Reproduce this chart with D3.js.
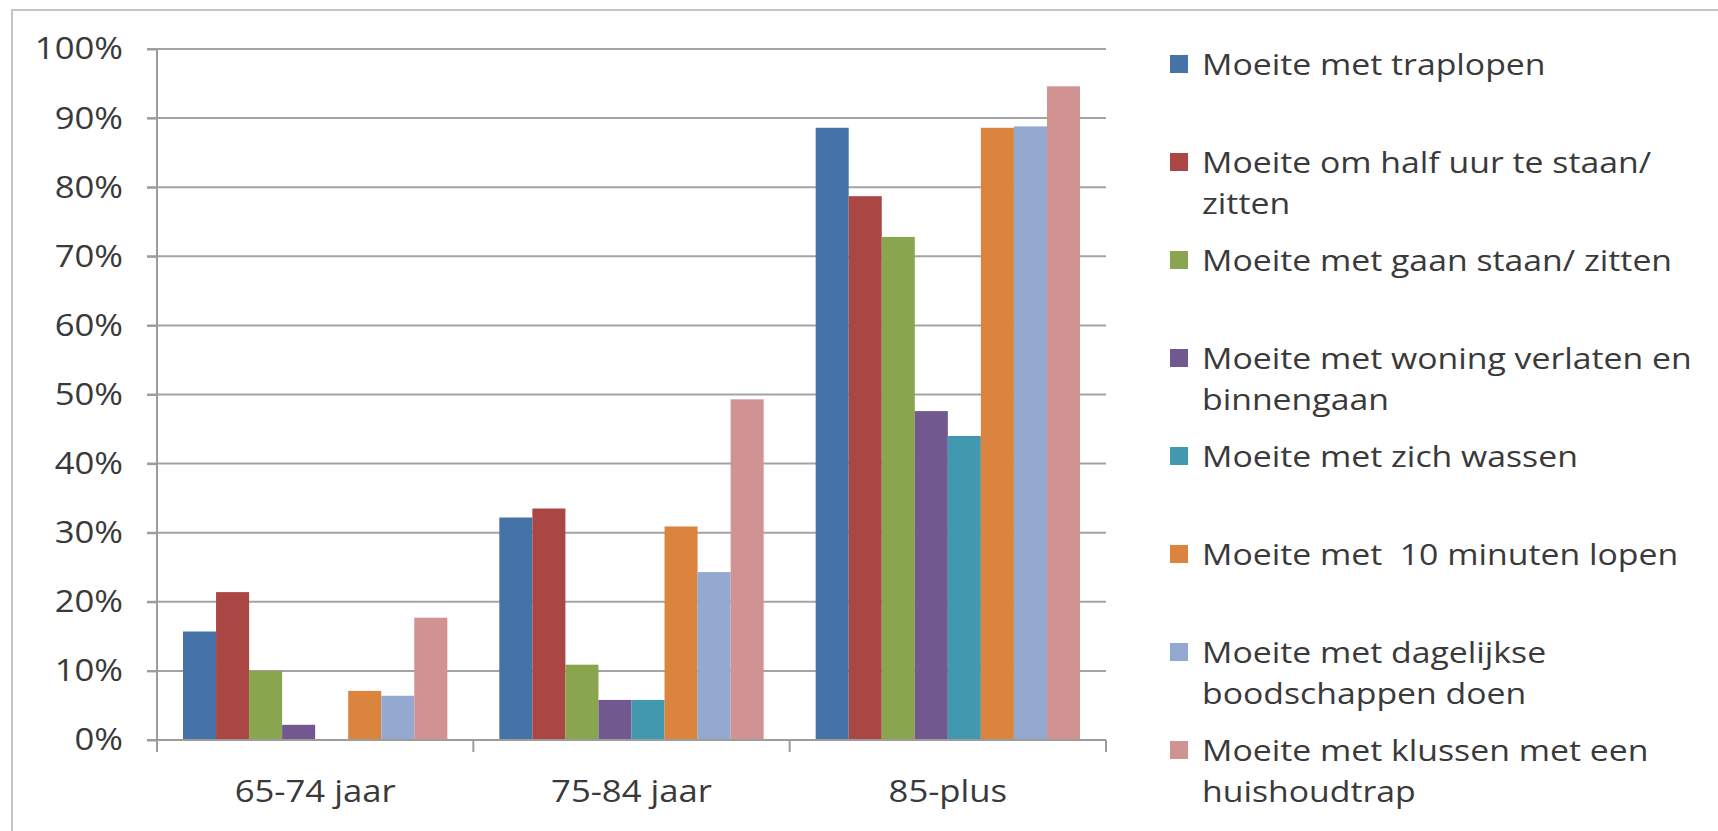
<!DOCTYPE html>
<html lang="nl">
<head>
    <meta charset="UTF-8">
    <title>Moeite met dagelijkse activiteiten naar leeftijd</title>
    <script src="https://d3js.org/d3.v7.min.js"></script>
    <style>
        body {
            margin: 0;
            padding: 0;
            background: #fff;
            overflow: hidden;
        }
        svg {
            display: block;
        }
        text {
            font-family: "Open Sans", Lato, sans-serif;
            fill: #3a3a3a;
        }
        .legend text {
            white-space: pre;
        }
        .grid line {
            stroke: #a3a3a3;
            stroke-width: 2px;
        }
        .axis-line {
            stroke: #9c9c9c;
            stroke-width: 2px;
        }
    </style>
</head>
<body>
    <svg id="chart" width="1718" height="831"></svg>

    <script>
        // age groups on the x axis
        const categories = ["65-74 jaar", "75-84 jaar", "85-plus"];

        // legend labels, "\n" where the picture wraps the line
        const seriesNames = [
            "Moeite met traplopen",
            "Moeite om half uur te staan/\nzitten",
            "Moeite met gaan staan/ zitten",
            "Moeite met woning verlaten en\nbinnengaan",
            "Moeite met zich wassen",
            "Moeite met  10 minuten lopen",
            "Moeite met dagelijkse\nboodschappen doen",
            "Moeite met klussen met een\nhuishoudtrap"
        ];

        // percentages per series, one value per age group
        const traplopen    = [15.7, 32.2, 88.6];
        const halfUurStaan = [21.4, 33.5, 78.7];
        const gaanStaan    = [10.0, 10.9, 72.8];
        const woning       = [2.2, 5.8, 47.6];
        const wassen       = [0, 5.8, 44.0];
        const lopen10      = [7.1, 30.9, 88.6];
        const boodschappen = [6.4, 24.3, 88.8];
        const klussen      = [17.7, 49.3, 94.6];

        const yTicks = [0, 10, 20, 30, 40, 50, 60, 70, 80, 90, 100];

        const values = [traplopen, halfUurStaan, gaanStaan, woning, wassen, lopen10, boodschappen, klussen];

        // Excel 2007 style palette
        const colors = ["#4572a7", "#aa4643", "#89a54e", "#71588f", "#4198af", "#db843d", "#93a9cf", "#d19392"];

        const svg = d3.select("#chart");

        const plotLeft = 157, plotRight = 1106, plotTop = 49, plotBottom = 740;

        const x0 = d3.scaleBand()
            .domain(categories)
            .range([plotLeft, plotRight]);

        const x1 = d3.scaleBand()
            .domain(d3.range(seriesNames.length))
            .range([26, x0.bandwidth() - 26]);

        const y = d3.scaleLinear()
            .domain([0, 100])
            .range([plotBottom, plotTop]);

        // frame round the chart (only left and top edge are in view)
        svg.append("path")
            .attr("d", `M12,831 V10 H1718`)
            .attr("fill", "none")
            .attr("stroke", "#c4c4c4")
            .attr("stroke-width", 2);

        // horizontal gridlines, they start at the tick mark
        svg.append("g")
            .attr("class", "grid")
            .selectAll("line")
            .data(yTicks.filter(d => d > 0))
            .enter().append("line")
            .attr("x1", plotLeft - 10)
            .attr("x2", plotRight)
            .attr("y1", d => y(d))
            .attr("y2", d => y(d));

        // bars
        const groups = svg.append("g")
            .selectAll("g")
            .data(categories)
            .enter().append("g")
            .attr("transform", d => `translate(${x0(d)},0)`);

        groups.selectAll("rect")
            .data((d, i) => values.map((s, j) => ({ series: j, value: s[i] })))
            .enter().append("rect")
            .attr("x", d => x1(d.series))
            .attr("width", x1.bandwidth())
            .attr("y", d => y(d.value))
            .attr("height", d => y(0) - y(d.value))
            .attr("fill", d => colors[d.series]);

        // y axis
        const yAxis = svg.append("g")
            .attr("transform", `translate(${plotLeft},0)`)
            .call(d3.axisLeft(y)
                .tickValues(yTicks)
                .tickSize(10)
                .tickPadding(24)
                .tickFormat(d => d + "%"));
        yAxis.select(".domain").remove();
        yAxis.selectAll(".tick line").attr("class", "axis-line");
        yAxis.selectAll(".tick text")
            .attr("font-size", 31)
            .attr("fill", "#3a3a3a");
        yAxis.attr("font-family", null).attr("font-size", null);

        svg.append("line")
            .attr("class", "axis-line")
            .attr("x1", plotLeft).attr("x2", plotLeft)
            .attr("y1", plotTop).attr("y2", plotBottom + 12);

        // x axis line and the ticks between the groups
        svg.append("line")
            .attr("class", "axis-line")
            .attr("x1", plotLeft - 10).attr("x2", plotRight)
            .attr("y1", plotBottom).attr("y2", plotBottom);

        const bounds = categories.map(c => x0(c)).concat([plotRight]);
        svg.append("g")
            .selectAll("line")
            .data(bounds)
            .enter().append("line")
            .attr("class", "axis-line")
            .attr("x1", d => d).attr("x2", d => d)
            .attr("y1", plotBottom).attr("y2", plotBottom + 12);

        const xLabels = svg.append("g")
            .selectAll("text")
            .data(categories)
            .enter().append("text")
            .attr("text-anchor", "middle")
            .attr("font-size", 31)
            .attr("data-x", d => x0(d) + x0.bandwidth() / 2)
            .attr("data-y", plotBottom + 62)
            .text(d => d);

        // legend
        const legend = svg.append("g").attr("class", "legend");
        const legendX = 1170, legendY = 75, legendStep = 98, lineStep = 41;

        seriesNames.forEach((name, i) => {
            const base = legendY + i * legendStep;
            legend.append("rect")
                .attr("x", legendX)
                .attr("y", base - 20)
                .attr("width", 18)
                .attr("height", 18)
                .attr("fill", colors[i]);
            name.split("\n").forEach((line, k) => {
                legend.append("text")
                    .attr("font-size", 30)
                    .attr("data-x", legendX + 32)
                    .attr("data-y", base + k * lineStep)
                    .text(line);
            });
        });

        // the original text is set wide; stretch our font to the same width
        function stretch(sel, k) {
            sel.each(function () {
                const t = d3.select(this);
                const tx = +t.attr("data-x"), ty = +t.attr("data-y");
                t.attr("transform", `translate(${tx},${ty}) scale(${k},1)`);
            });
        }

        const legendTexts = legend.selectAll("text");
        const widest = legendTexts.filter(function () { return d3.select(this).text().startsWith("Moeite met woning"); });
        const kLegend = 490 / widest.node().getComputedTextLength();
        stretch(legendTexts, kLegend);

        const kX = 161 / xLabels.filter((d, i) => i === 0).node().getComputedTextLength();
        stretch(xLabels, kX);

        yAxis.selectAll(".tick text").each(function () {
            const t = d3.select(this);
            t.attr("x", 0).attr("transform", `translate(-34,0) scale(${kX},1)`);
        });
    </script>
</body>
</html>
